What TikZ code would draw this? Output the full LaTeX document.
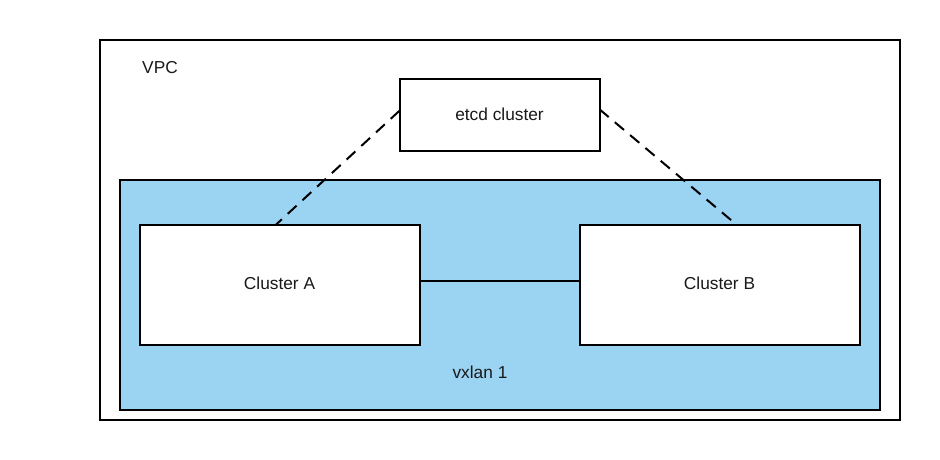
\documentclass[tikz,border=0pt]{standalone}
\usepackage{fontspec}
\setmainfont{Liberation Sans}
\usetikzlibrary{calc}
\definecolor{vxblue}{RGB}{155,211,242}
\begin{document}
\begin{tikzpicture}[x=1pt,y=-1pt,
  box/.style={draw=black,line width=2pt,fill=white,outer sep=0pt},
  lbl/.style={font=\fontsize{17.3}{19}\selectfont,text=black!90},
  dashlink/.style={draw=black,line width=2pt,dash pattern=on 12pt off 8pt},
  solidlink/.style={draw=black,line width=2pt}]
\useasboundingbox (0,0) rectangle (940,460);
\fill[white] (0,0) rectangle (940,460);
\draw[box] (100,40) rectangle (900,420);
\node[lbl] (vpc) at (160,68) {VPC};
\draw[line width=2pt,fill=vxblue] (120,180) rectangle (880,410);
\node[lbl] (vx) at (480,372) {vxlan 1};
\node[box,minimum width=200pt,minimum height=71pt,inner sep=0pt,anchor=north west,lbl] (etcd) at (399.5,79.5) {\raisebox{2pt}{etcd cluster}};
\node[box,minimum width=280pt,minimum height=120pt,inner sep=0pt,anchor=north west,lbl] (ca) at (139.5,224.5) {\raisebox{2pt}{Cluster A}};
\node[box,minimum width=280pt,minimum height=120pt,inner sep=0pt,anchor=north west,lbl] (cb) at (579.5,224.5) {\raisebox{2pt}{Cluster B}};
\coordinate (ap) at ($(ca.north east)!0.468!(ca.south east)$);
\draw[solidlink] (ap) -- (ap -| cb.west);
\draw[dashlink] ($(etcd.north west)!0.44!(etcd.south west)$) -- ($(ca.north west)!0.488!(ca.north east)$);
\draw[dashlink] ($(etcd.north east)!0.42!(etcd.south east)$) -- ($(cb.north west)!0.56!(cb.north east)$);
\end{tikzpicture}
\end{document}
